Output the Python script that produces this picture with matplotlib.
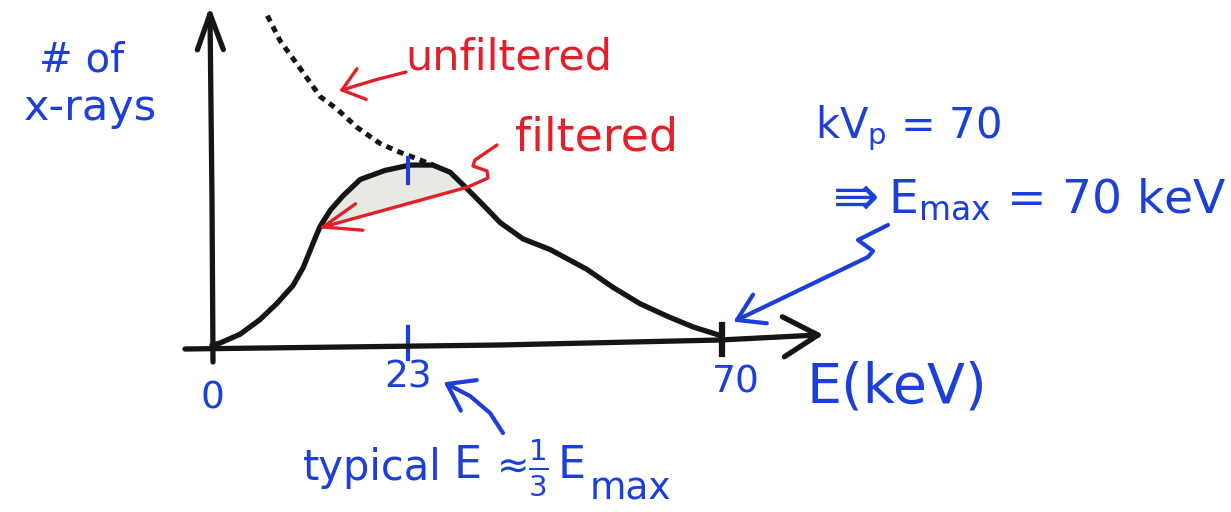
import numpy as np
import matplotlib
matplotlib.use("Agg")
import matplotlib.pyplot as plt

# filtered spectrum: photon energy (keV) vs relative number of x-rays
energy = [0, 0.9, 3.3, 5.6, 7.6, 9.5, 10.7, 11.9, 12.7, 13.9, 15.4, 17.4, 20.3, 23.3,
          26.7, 29.3, 31.8, 34.2, 36.8, 40.2, 44.3, 49.8, 53.7, 57.7, 61.8, 65.7, 70]
counts = [0, 1, 6, 14, 23, 33, 43, 57, 66, 75, 83, 92, 97, 100,
          100, 96, 87, 78, 68, 59, 53, 42, 32, 23, 16, 10, 5]

# unfiltered spectrum at low energies (dotted), meets the filtered curve near the peak
energy_unf = [6.5, 8.0, 10.3, 12.7, 14.7, 17.0, 19.7, 22.1, 24.7, 26.7]
counts_unf = [183, 169, 154, 138, 131, 121, 112, 107, 103, 100]

tick_values = [0, 23, 70]
tick_labels = ["0", "23", "70"]
e_typical = 23
e_max = 70

BLUE = "#1b3fd8"
RED = "#e3202a"
INK = "#151515"
HAND = ["DejaVu Sans"]

plt.rcParams["mathtext.default"] = "regular"

# sketch axis is not to scale: energies above E_typical are squeezed a bit
SQUEEZE = 0.784


def fwd(x):
    x = np.asarray(x, float)
    return np.where(x <= e_typical, x, e_typical + (x - e_typical) * SQUEEZE)


def inv(u):
    u = np.asarray(u, float)
    return np.where(u <= e_typical, u, e_typical + (u - e_typical) / SQUEEZE)


def hand_arrow(a, pts, color, lw, head=28, spread=30):
    """Polyline ending in an open V head, in pixel coordinates."""
    pts = np.asarray(pts, float)
    a.plot(pts[:, 0], pts[:, 1], color=color, lw=lw, solid_capstyle="round",
           solid_joinstyle="round")
    tip = pts[-1]
    back = pts[-2] - tip
    ang = np.arctan2(back[1], back[0])
    for s in (-1, 1):
        t = ang + s * np.radians(spread)
        end = tip + head * np.array([np.cos(t), np.sin(t)])
        a.plot([tip[0], end[0]], [tip[1], end[1]], color=color, lw=lw,
               solid_capstyle="round")


def note(a, x, y, s, color, size, **kw):
    kw.setdefault("ha", "left")
    kw.setdefault("va", "center")
    kw.setdefault("family", HAND)
    a.text(x, y, s, color=color, fontsize=size, **kw)


fig = plt.figure(figsize=(12.31, 5.12), dpi=100)

# data axes over the whole canvas
ax = fig.add_axes([0, 0, 1, 1])
ax.set_xscale("function", functions=(fwd, inv))
ax.set_xlim(-24.88, 146.2)
ax.set_ylim(-92.8, 191.7)
ax.axis("off")

# overlay in pixel units for the hand-drawn axes and notes
ov = fig.add_axes([0, 0, 1, 1])
ov.set_xlim(0, 1231)
ov.set_ylim(512, 0)
ov.axis("off")

# shaded part removed by the filter (between curve and the red arrow)
e = np.asarray(energy, float)
c = np.asarray(counts, float)
x0, y0, x1, y1 = 12.7, 66, 31.8, 87
m = (e >= x0) & (e <= x1)
lower = np.interp(e[m], [x0, x1], [y0, y1])
ax.fill_between(e[m], lower, c[m], color="#e9e9e4", lw=0, zorder=1)

# spectra
ax.plot(energy, counts, color=INK, lw=3.8, solid_capstyle="round",
        solid_joinstyle="round", zorder=3)
ax.plot(energy_unf, counts_unf, color=INK, lw=3.6,
        linestyle=(0, (1.3, 1.1)), zorder=3)

# ticks on the energy axis and the peak marker
ax.plot([e_typical, e_typical], [-8, 10], color=BLUE, lw=3, zorder=4)
ax.plot([e_typical, e_typical], [90, 104], color=BLUE, lw=3, zorder=4)
ax.plot([e_max, e_max], [-5, 11], color=INK, lw=4.5, zorder=4)

label_y = [-30, -18, -21]
for v, lab, yy in zip(tick_values, tick_labels, label_y):
    ax.text(v + (2 if v == e_max else 0), yy, lab, color=BLUE, fontsize=27,
            family=HAND, ha="center", va="center")

# hand-drawn axes
hand_arrow(ov, [(213, 362), (212, 200), (210, 14)], INK, 3.8, head=38, spread=20)
hand_arrow(ov, [(185, 349), (500, 345), (720, 340), (818, 335)], INK, 3.8,
           head=40, spread=30)

# axis titles
note(ov, 82, 60, "# of", BLUE, 29, ha="center")
note(ov, 90, 108, "x-rays", BLUE, 31, ha="center")
note(ov, 897, 388, "E(keV)", BLUE, 40, ha="center")

# red notes
note(ov, 405, 57, "unfiltered", RED, 31)
hand_arrow(ov, [(406, 72), (375, 80), (342, 90)], RED, 2.4, head=26, spread=38)
note(ov, 515, 138, "filtered", RED, 33)
hand_arrow(ov, [(497, 145), (475, 160), (473, 166), (487, 171), (488, 178),
                (468, 187), (323, 227)], RED, 2.4, head=40, spread=20)

# blue notes
note(ov, 815, 128, "kV$_p$ = 70", BLUE, 30)
note(ov, 833, 200, "\u21db", BLUE, 40, family=["DejaVu Sans"])
note(ov, 888, 200, "E$_{max}$ = 70 keV", BLUE, 34)
hand_arrow(ov, [(888, 225), (858, 240), (873, 251), (868, 257), (737, 320)],
           BLUE, 3, head=30, spread=32)

note(ov, 303, 468, "typical", BLUE, 30)
note(ov, 454, 465, "E", BLUE, 32)
note(ov, 497, 466, "\u2248", BLUE, 28)
note(ov, 528, 468, r"$\frac{1}{3}$", BLUE, 30)
note(ov, 558, 465, "E", BLUE, 32)
note(ov, 590, 489, "max", BLUE, 27)
hand_arrow(ov, [(503, 433), (490, 413), (470, 396), (447, 384)], BLUE, 3,
           head=30, spread=35)

fig.savefig("out.png", dpi=100)
